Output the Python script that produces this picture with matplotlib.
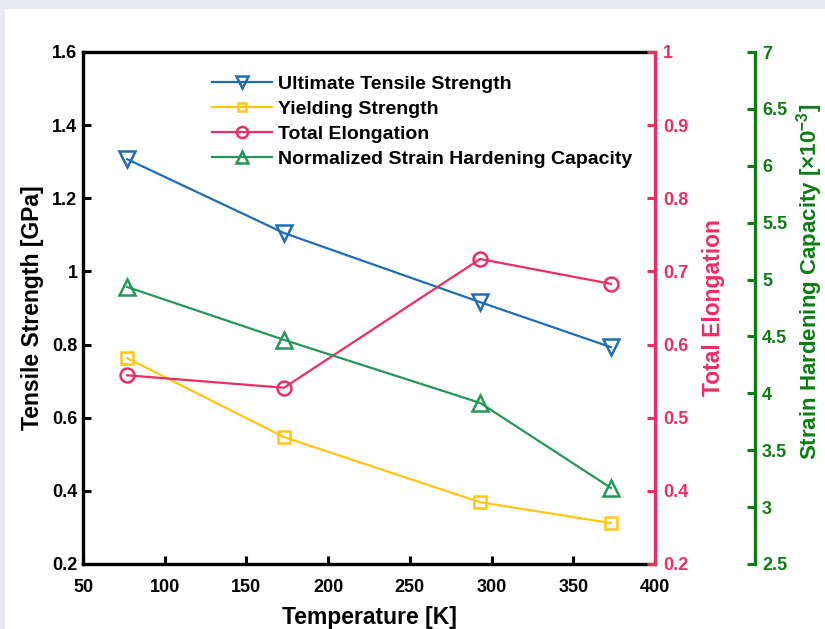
import matplotlib
matplotlib.use("Agg")
import matplotlib.pyplot as plt
from matplotlib.patches import Rectangle

plt.rcParams['font.family'] = ['Liberation Sans', 'DejaVu Sans']
plt.rcParams['font.weight'] = 'bold'
plt.rcParams['mathtext.fontset'] = 'custom'
plt.rcParams['mathtext.rm'] = 'Liberation Sans:bold'
plt.rcParams['mathtext.bf'] = 'Liberation Sans:bold'

# data
temperature = [77, 173, 293, 373]
uts = [1.307, 1.105, 0.916, 0.793]
ys = [0.763, 0.547, 0.369, 0.312]
elongation = [0.558, 0.541, 0.717, 0.683]
nshc = [4.935, 4.47, 3.916, 3.169]

x_ticks = [50, 100, 150, 200, 250, 300, 350, 400]
left_ticks = [0.2, 0.4, 0.6, 0.8, 1.0, 1.2, 1.4, 1.6]
left_labels = ['0.2', '0.4', '0.6', '0.8', '1', '1.2', '1.4', '1.6']
# right axis as drawn in the reference (bottom tick is labelled 0.2)
pink_ticks = [0.3, 0.4, 0.5, 0.6, 0.7, 0.8, 0.9, 1.0]
pink_labels = ['0.2', '0.4', '0.5', '0.6', '0.7', '0.8', '0.9', '1']
green_ticks = [2.5, 3, 3.5, 4, 4.5, 5, 5.5, 6, 6.5, 7]
green_labels = ['2.5', '3', '3.5', '4', '4.5', '5', '5.5', '6', '6.5', '7']

blue = '#1f6db5'
yellow = '#ffc712'
pink = '#ec2d66'
green_line = '#24975a'
green_axis = '#0b7d12'

fig = plt.figure(figsize=(8.25, 6.29), dpi=100, facecolor='#e8e9ee')
fig.patches.append(Rectangle((5 / 825, 0), 1, 1 - 9 / 629, transform=fig.transFigure,
                             facecolor='white', edgecolor='none', zorder=-10))

ax = fig.add_axes([83 / 825, 65 / 629, 572 / 825, 512 / 629])
ax.set_facecolor('none')
ax2 = ax.twinx()
ax3 = ax.twinx()
ax3.spines['right'].set_position(('axes', 672 / 572))

l1, = ax.plot(temperature, uts, color=blue, lw=1.6, marker='v', ms=11, mfc='none', mew=1.8)
l2, = ax.plot(temperature, ys, color=yellow, lw=1.6, marker='s', ms=8, mfc='none', mew=1.8)
l3, = ax2.plot(temperature, elongation, color=pink, lw=1.6, marker='o', ms=10, mfc='none', mew=1.8)
l4, = ax3.plot(temperature, nshc, color=green_line, lw=1.6, marker='^', ms=11, mfc='none', mew=1.8)

ax.set_xlim(50, 400)
ax.set_ylim(0.2, 1.6)
ax.set_xticks(x_ticks)
ax.set_xticklabels([str(t) for t in x_ticks])
ax.set_yticks(left_ticks)
ax.set_yticklabels(left_labels)
ax2.set_ylim(0.3, 1.0)
ax2.set_yticks(pink_ticks)
ax2.set_yticklabels(pink_labels)
ax3.set_ylim(2.5, 7)
ax3.set_yticks(green_ticks)
ax3.set_yticklabels(green_labels)

for a in (ax, ax2, ax3):
    for s in a.spines.values():
        s.set_linewidth(2.4)
ax.spines['right'].set_visible(False)
ax2.spines['left'].set_visible(False)
ax2.spines['top'].set_visible(False)
ax2.spines['bottom'].set_visible(False)
ax2.spines['right'].set_color(pink)
for k in ('left', 'top', 'bottom'):
    ax3.spines[k].set_visible(False)
ax3.spines['right'].set_color(green_axis)

ax.tick_params(axis='both', direction='in', length=6, width=2.2, labelsize=13, pad=4, color='black')
ax.tick_params(axis='x', pad=11)
ax2.tick_params(axis='y', direction='in', length=6, width=2.2, labelsize=13, colors=pink, pad=6)
ax3.tick_params(axis='y', direction='in', length=6, width=2.2, labelsize=13, colors=green_axis, pad=5)

ax.set_xlabel('Temperature [K]', fontsize=16.5, fontweight='bold', labelpad=7)
ax.set_ylabel('Tensile Strength [GPa]', fontsize=16.5, fontweight='bold', labelpad=6)
ax2.set_ylabel('Total Elongation', fontsize=16.5, fontweight='bold', color=pink, labelpad=10)
ax3.set_ylabel(r'Strain Hardening Capacity [×10$^{-3}$]', fontsize=16, fontweight='bold',
               color=green_axis)
ax3.yaxis.set_label_coords(1.243, 0.551)

handles = [l1, l2, l3, l4]
labels = ['Ultimate Tensile Strength', 'Yielding Strength', 'Total Elongation',
          'Normalized Strain Hardening Capacity']
leg = ax3.legend(handles, labels, loc='upper left', bbox_to_anchor=(0.212, 0.97),
                 frameon=False, fontsize=14, handlelength=3.1, handletextpad=0.3,
                 labelspacing=0.38, borderaxespad=0, markerscale=0.8)

fig.savefig('out.png', dpi=100, facecolor=fig.get_facecolor())
